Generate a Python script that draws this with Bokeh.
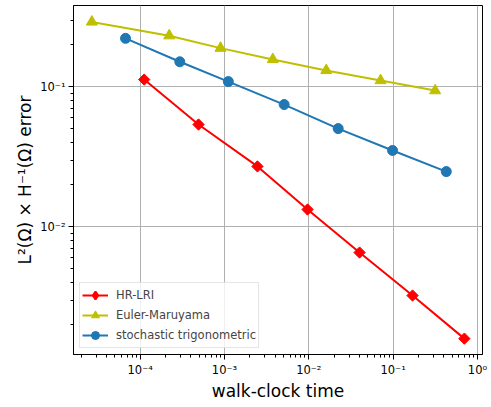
import math
from bokeh.plotting import figure
from bokeh.models import Range1d, FixedTicker, CustomJSTickFormatter, Legend, LegendItem
from bokeh.embed import file_html
from bokeh.resources import INLINE

# ---- data ----
t_hr = [1.115e-4, 4.92e-4, 2.46e-3, 9.66e-3, 0.0400, 0.170, 0.700]
e_hr = [0.1127, 0.0538, 0.0270, 0.0133, 0.00655, 0.00323, 0.00159]

t_em = [2.67e-5, 2.21e-4, 8.97e-4, 3.74e-3, 0.0161, 0.071, 0.315]
e_em = [0.291, 0.232, 0.189, 0.157, 0.131, 0.111, 0.094]

t_st = [6.70e-5, 2.95e-4, 1.11e-3, 5.10e-3, 0.0223, 0.0985, 0.427]
e_st = [0.222, 0.151, 0.109, 0.0747, 0.0503, 0.0351, 0.0248]

labels = ["HR-LRI", "Euler-Maruyama", "stochastic trigonometric"]
colors = ["#ff0000", "#bfbf00", "#1f77b4"]

x_major = [1e-4, 1e-3, 1e-2, 1e-1, 1e0]
y_major = [1e-2, 1e-1]

FONT = "DejaVu Sans"

p = figure(width=491, height=407, output_backend="svg", toolbar_location=None,
           x_axis_type="log", y_axis_type="log",
           x_range=Range1d(10 ** -4.791, 10 ** 0.06),
           y_range=Range1d(10 ** -2.912, 10 ** -0.419),
           min_border_left=73, min_border_right=9, min_border_top=5,
           min_border_bottom=53)
p.background_fill_color = "white"
p.border_fill_color = "white"
p.outline_line_color = "black"
p.outline_line_width = 1

# minor tick positions (2..9 within each decade)
x_minor = [m * 10 ** d for d in range(-5, 1) for m in range(2, 10)]
y_minor = [m * 10 ** d for d in range(-3, 0) for m in range(2, 10)]

p.xaxis.ticker = FixedTicker(ticks=x_major, minor_ticks=x_minor)
p.yaxis.ticker = FixedTicker(ticks=y_major, minor_ticks=y_minor)

fmt_code = """
const e = Math.round(Math.log10(tick));
const sup = {'-':'\u207b','0':'\u2070','1':'\u00b9','2':'\u00b2','3':'\u00b3','4':'\u2074',
             '5':'\u2075','6':'\u2076','7':'\u2077','8':'\u2078','9':'\u2079'};
return '10' + String(e).split('').map(c => sup[c]).join('');
"""
p.xaxis.formatter = CustomJSTickFormatter(code=fmt_code)
p.yaxis.formatter = CustomJSTickFormatter(code=fmt_code)

for ax in (p.xaxis, p.yaxis):
    ax.axis_line_color = "black"
    ax.major_tick_line_color = "black"
    ax.minor_tick_line_color = "black"
    ax.major_tick_out = 5
    ax.major_tick_in = 0
    ax.minor_tick_out = 3
    ax.minor_tick_in = 0
    ax.major_label_text_font = FONT
    ax.major_label_text_font_size = "11.5px"
    ax.major_label_text_color = "black"
    ax.axis_label_text_font = FONT
    ax.axis_label_text_font_size = "17px"
    ax.axis_label_text_font_style = "normal"
    ax.axis_label_text_color = "black"
    ax.major_label_standoff = 3

p.xaxis.axis_label = "walk-clock time"
p.yaxis.axis_label = "L\u00b2(\u03a9) \u00d7 H\u207b\u00b9(\u03a9) error"
p.xaxis.axis_label_standoff = 1
p.yaxis.axis_label_standoff = 2

p.grid.grid_line_color = "#b0b0b0"
p.grid.grid_line_width = 1

series = [(t_hr, e_hr, "square", 8, math.pi / 4),
          (t_em, e_em, "triangle", 11, 0.0),
          (t_st, e_st, "circle", 10, 0.0)]

items = []
for (t, e, marker, size, ang), lab, col in zip(series, labels, colors):
    lr = p.line(t, e, line_color=col, line_width=2)
    sr = p.scatter(t, e, marker=marker, size=size, angle=ang,
                   fill_color=col, line_color=col)
    if marker == "square":
        # legend proxy: unrotated diamond shape for the legend swatch
        proxy = p.scatter(t, e, marker="diamond", size=13, line_width=2,
                          fill_color=col, line_color=col, visible=False)
        items.append(LegendItem(label=lab, renderers=[lr, proxy]))
    else:
        items.append(LegendItem(label=lab, renderers=[lr, sr]))

lg = Legend(items=items, location="bottom_left")
lg.margin = 6
lg.padding = 2
lg.spacing = 0
lg.glyph_width = 26
lg.glyph_height = 20
lg.label_height = 20
lg.label_standoff = 8
lg.label_text_font = FONT
lg.label_text_font_size = "11.5px"
lg.border_line_color = "#cccccc"
lg.border_line_width = 1
lg.background_fill_alpha = 0.8
p.add_layout(lg, "center")

open("out.html", "w").write(file_html(p, INLINE))
